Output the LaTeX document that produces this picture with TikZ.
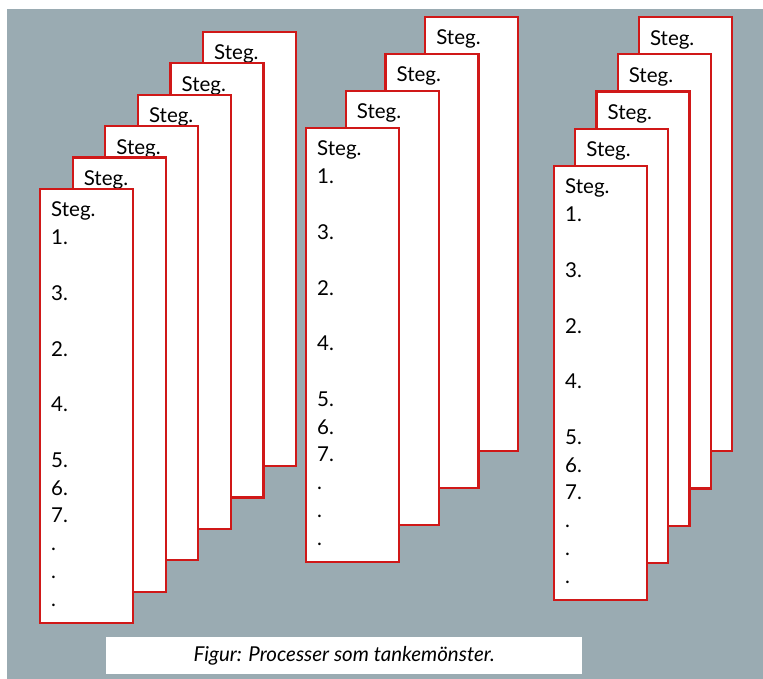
\documentclass[tikz,border=0pt]{standalone}
\usepackage{fontspec}
\setmainfont{Lato}
\definecolor{bggray}{HTML}{9AABB2}
\definecolor{cardred}{HTML}{D01818}
\begin{document}
\begin{tikzpicture}[x=1pt,y=-1pt,
  card/.style={draw=cardred, line width=2.2pt, fill=white, minimum width=93pt,
    minimum height=434pt, anchor=north west, inner sep=0pt, outer sep=0pt},
  lbl/.style={anchor=base west, inner sep=0pt, text=black,
    font=\fontsize{20.5}{20.5}\selectfont},
  captionbox/.style={fill=white, minimum width=476pt, minimum height=37pt,
    anchor=north west, inner sep=0pt, font=\itshape\fontsize{20.5}{20.5}\selectfont}]
\useasboundingbox (0,0) rectangle (763,679);
\fill[white] (0,0) rectangle (763,679);
\fill[bggray] (7,9) rectangle (763,679);

% ---- group A (left), 6 cards
\foreach \i in {5,4,...,1}{
  \node[card] (gA\i) at ({40+32.6*\i},{189-31.4*\i}) {};
  \node[lbl] (gAs\i) at ([xshift=11pt,yshift=-28pt]gA\i.north west) {Steg.};
}
\node[card] (gA0) at (40,189) {};
\foreach \t/\k [count=\n] in {Steg./0,1./1,3./3,2./5,4./7,5./9,6./10,7./11,./12,./13,./14}{
  \node[lbl] (gAt\n) at ([xshift=11pt,yshift={-(28+27.8*\k)*1pt}]gA0.north west) {\t};
}

% ---- group B (middle), 4 cards
\foreach \i in {3,2,1}{
  \node[card] (gB\i) at ({306+39.7*\i},{128-37*\i}) {};
  \node[lbl] (gBs\i) at ([xshift=11pt,yshift=-28pt]gB\i.north west) {Steg.};
}
\node[card] (gB0) at (306,128) {};
\foreach \t/\k [count=\n] in {Steg./0,1./1,3./3,2./5,4./7,5./9,6./10,7./11,./12,./13,./14}{
  \node[lbl] (gBt\n) at ([xshift=11pt,yshift={-(28+27.8*\k)*1pt}]gB0.north west) {\t};
}

% ---- group C (right), 5 cards
\foreach \i in {4,3,2,1}{
  \node[card] (gC\i) at ({554+21.2*\i},{166-37.2*\i}) {};
  \node[lbl] (gCs\i) at ([xshift=11pt,yshift=-28pt]gC\i.north west) {Steg.};
}
\node[card] (gC0) at (554,166) {};
\foreach \t/\k [count=\n] in {Steg./0,1./1,3./3,2./5,4./7,5./9,6./10,7./11,./12,./13,./14}{
  \node[lbl] (gCt\n) at ([xshift=11pt,yshift={-(28+27.8*\k)*1pt}]gC0.north west) {\t};
}

% ---- caption
\node[captionbox] (cap) at (106,637) {Figur: Processer som tankemönster.};
\end{tikzpicture}
\end{document}
